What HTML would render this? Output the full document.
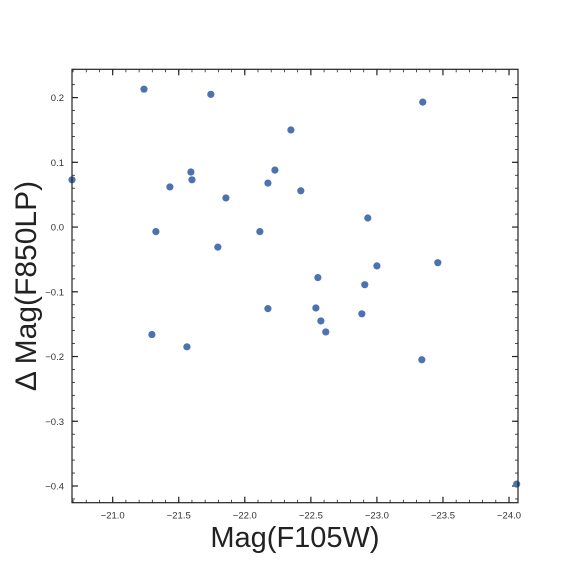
<!DOCTYPE html>
<html><head><meta charset="utf-8"><style>
html,body{margin:0;padding:0;background:#fff;}
svg{display:block;font-family:"Liberation Sans",sans-serif;}
</style></head><body>
<svg id="chart" width="576" height="576" viewBox="0 0 576 576">
<rect width="576" height="576" fill="#fff"/>
<g id="ticks"></g>
<g id="pts"></g>
<rect x="72" y="69.3" width="446" height="433.4" fill="none" stroke="#222" stroke-width="1.2"/>
<text x="295" y="547" font-size="29" text-anchor="middle" fill="#222">Mag(F105W)</text>
<text transform="translate(36,286) rotate(-90)" font-size="30" text-anchor="middle" fill="#222">Δ Mag(F850LP)</text>
</svg>
<script>
const xVals=[-20.692,-21.237,-21.743,-22.349,-23.347,-21.433,-21.592,-21.600,-21.857,-22.175,-22.228,-22.424,-22.931,-21.327,-21.796,-22.114,-22.553,-23.000,-23.461,-22.908,-22.538,-22.576,-22.613,-22.175,-21.297,-21.562,-22.886,-23.340,-24.058];
const yVals=[0.073,0.213,0.205,0.150,0.193,0.062,0.085,0.073,0.045,0.068,0.088,0.056,0.014,-0.007,-0.031,-0.007,-0.078,-0.060,-0.055,-0.089,-0.125,-0.145,-0.162,-0.126,-0.166,-0.185,-0.134,-0.205,-0.397];
const xTicks=[-21.0,-21.5,-22.0,-22.5,-23.0,-23.5,-24.0];
const xTickLabels=["−21.0","−21.5","−22.0","−22.5","−23.0","−23.5","−24.0"];
const yTicks=[-0.4,-0.3,-0.2,-0.1,0.0,0.1,0.2];
const yTickLabels=["−0.4","−0.3","−0.2","−0.1","0.0","0.1","0.2"];
const X0=72,X1=518,Y0=69.3,Y1=502.7,xmin=-20.692,xmax=-24.068,ymax=0.2437,ymin=-0.4258;
const sx=v=>X0+(v-xmin)/(xmax-xmin)*(X1-X0);
const sy=v=>Y0+(ymax-v)/(ymax-ymin)*(Y1-Y0);
const NS="http://www.w3.org/2000/svg";
const tg=document.getElementById('ticks'),pg=document.getElementById('pts');
function line(x1,y1,x2,y2,w){const l=document.createElementNS(NS,'line');l.setAttribute('x1',x1);l.setAttribute('y1',y1);l.setAttribute('x2',x2);l.setAttribute('y2',y2);l.setAttribute('stroke','#222');l.setAttribute('stroke-width',w);


tg.appendChild(l);}
function txt(x,y,s,a){const t=document.createElementNS(NS,'text');t.setAttribute('x',x);t.setAttribute('y',y);t.setAttribute('font-size','9.5');t.setAttribute('fill','#333');t.setAttribute('text-anchor',a);t.textContent=s;


tg.appendChild(t);}
for(let v=-20.7;v>=-24.05;v-=0.1){const x=sx(v);line(x,Y1,x,Y1-3,0.8);line(x,Y0,x,Y0+3,0.8);}
xTicks.forEach((v,i)=>{const x=sx(v);line(x,Y1,x,Y1-6,1.2);line(x,Y0,x,Y0+6,1.2);txt(x,Y1+16,xTickLabels[i],'middle');});
for(let v=-0.42;v<=0.24;v+=0.02){const y=sy(v);line(X0,y,X0+3,y,0.8);line(X1,y,X1-3,y,0.8);}
yTicks.forEach((v,i)=>{const y=sy(v);line(X0,y,X0+6,y,1.2);line(X1,y,X1-6,y,1.2);txt(X0-8,y+3.5,yTickLabels[i],'end');});
xVals.forEach((v,i)=>{const c=document.createElementNS(NS,'circle');c.setAttribute('cx',sx(v));c.setAttribute('cy',sy(yVals[i]));c.setAttribute('r','3.6');c.setAttribute('fill','#4c72b0');


pg.appendChild(c);});
</script>
</body></html>
